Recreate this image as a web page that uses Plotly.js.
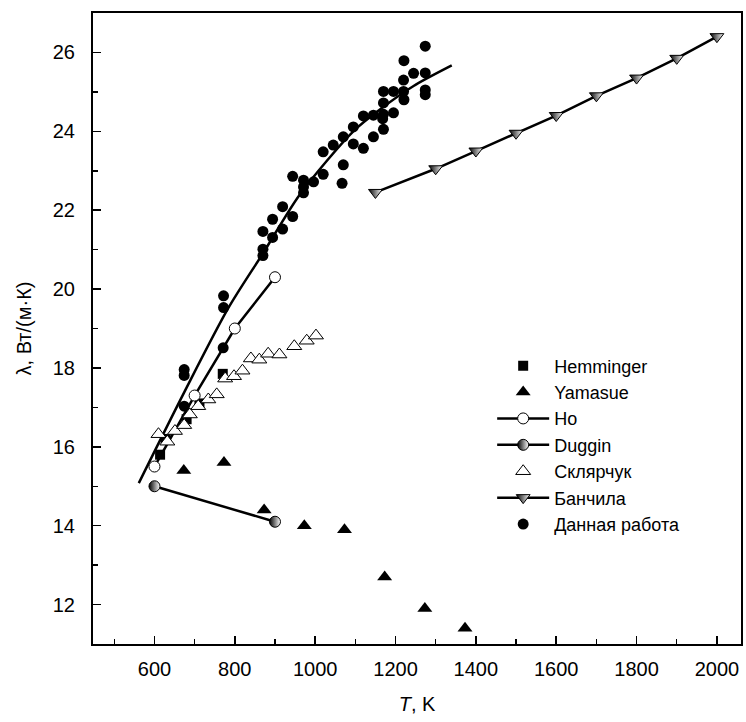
<!DOCTYPE html>
<html>
<head>
<meta charset="utf-8">
<script src="https://cdn.plot.ly/plotly-3.0.1.min.js"></script>
<style>html,body{margin:0;padding:0;background:#fff;}#chart{width:746px;height:722px;}</style>
</head>
<body>
<div id="chart"></div>
<script>
// Hemminger (filled squares)
const hemT = [614, 628, 680, 712, 770];
const hemL = [15.8, 16.2, 16.7, 17.1, 17.85];
// Yamasue (filled triangles)
const yamT = [673, 773, 873, 973, 1073, 1173, 1273, 1373];
const yamL = [15.4, 15.6, 14.4, 14.0, 13.9, 12.7, 11.9, 11.4];
// Ho (open circles with line)
const hoT = [600, 700, 800, 900];
const hoL = [15.5, 17.3, 19.0, 20.3];
// Duggin (half-filled circles with line)
const dugT = [600, 900];
const dugL = [15.0, 14.1];
// Склярчук (open triangles)
const sklT = [610, 632, 651, 674, 688, 709, 734, 755, 776, 798, 819, 840, 861, 883, 911, 948, 979, 1002];
const sklL = [16.32, 16.13, 16.40, 16.55, 16.82, 17.03, 17.20, 17.33, 17.73, 17.79, 17.93, 18.24, 18.21, 18.36, 18.34, 18.55, 18.69, 18.82];
// Банчила (half-filled down triangles with line)
const banT = [1150, 1300, 1400, 1500, 1600, 1700, 1800, 1900, 2000];
const banL = [22.45, 23.05, 23.5, 23.95, 24.4, 24.9, 25.35, 25.85, 26.4];
// Данная работа (filled circles)
const curT = [1274, 1221, 1245, 1274, 1220, 1170, 1195, 1220, 1274, 1274, 1170, 1221,
  1120, 1145, 1170, 1195, 1168, 1095, 1170, 1145, 1070, 1095, 1120, 1045, 1020, 1070,
  1067, 1020, 996, 971, 944, 971, 971, 919, 944, 894, 919, 870, 894, 870, 870,
  772, 772, 674, 674, 771, 674];
const curL = [26.16, 25.79, 25.47, 25.48, 25.30, 25.01, 25.01, 25.01, 25.05, 24.93, 24.72, 24.80,
  24.39, 24.41, 24.43, 24.47, 24.32, 24.11, 24.05, 23.86, 23.86, 23.68, 23.57, 23.65, 23.48, 23.15,
  22.68, 22.91, 22.72, 22.76, 22.86, 22.59, 22.44, 22.09, 21.84, 21.77, 21.52, 21.46, 21.31, 21.01, 20.85,
  19.83, 19.53, 17.96, 17.81, 18.51, 17.03];
// fit line through Данная работа
const fitT = [561, 674, 784, 871, 962, 1095, 1170, 1245, 1340];
const fitL = [15.08, 17.38, 19.52, 20.92, 22.4, 24.0, 24.62, 25.15, 25.67];

const xTicks = [600, 800, 1000, 1200, 1400, 1600, 1800, 2000];
const yTicks = [12, 14, 16, 18, 20, 22, 24, 26];

const FONT = 'Liberation Sans, Arial, sans-serif';

const traces = [
  {x: fitT, y: fitL, mode: 'lines', line: {color: '#000', width: 2.5, shape: 'spline', smoothing: 0.8}, showlegend: false, hoverinfo: 'skip'},
  {x: hemT, y: hemL, name: 'Hemminger', mode: 'markers',
   marker: {symbol: 'square', size: 10, color: '#000'}},
  {x: yamT, y: yamL, name: 'Yamasue', mode: 'markers',
   marker: {symbol: 'triangle-up', size: 13, color: '#000'}},
  {x: hoT, y: hoL, name: 'Ho', mode: 'lines+markers',
   line: {color: '#000', width: 2.5},
   marker: {symbol: 'circle', size: 11, color: '#fff', line: {color: '#000', width: 1}}},
  {x: dugT, y: dugL, name: 'Duggin', mode: 'lines+markers',
   line: {color: '#000', width: 2.5},
   marker: {symbol: 'circle', size: 11, color: '#000', gradient: {type: 'horizontal', color: '#fff'}, line: {color: '#000', width: 1}}},
  {x: sklT, y: sklL, name: 'Склярчук', mode: 'markers',
   marker: {symbol: 'triangle-up', size: 13, color: '#fff', line: {color: '#000', width: 1}}},
  {x: banT, y: banL, name: 'Банчила', mode: 'lines+markers',
   line: {color: '#000', width: 2.5},
   marker: {symbol: 'triangle-down', size: 12, color: '#000', gradient: {type: 'horizontal', color: '#fff'}, line: {color: '#000', width: 1}}},
  {x: curT, y: curL, name: 'Данная работа', mode: 'markers',
   marker: {symbol: 'circle', size: 11, color: '#000'}}
];

const layout = {
  width: 746, height: 722,
  margin: {l: 93, r: 5, t: 13, b: 78},
  paper_bgcolor: '#fff', plot_bgcolor: '#fff',
  font: {family: FONT, size: 20, color: '#000'},
  showlegend: true,
  legend: {x: 0.616, xanchor: 'left', y: 0.47, yanchor: 'top', bgcolor: 'rgba(0,0,0,0)',
    font: {family: FONT, size: 18, color: '#000'}, itemwidth: 52, tracegroupgap: 0},
  xaxis: {
    range: [447, 2060], tickvals: xTicks, ticktext: xTicks.map(String),
    ticks: 'inside', ticklen: 8, tickwidth: 1.5, tickcolor: '#000',
    minor: {dtick: 100, ticks: 'inside', ticklen: 5, tickwidth: 1.5, tickcolor: '#000', tick0: 500},
    showline: true, linecolor: '#000', linewidth: 2, mirror: true,
    showgrid: false, zeroline: false, ticklabelstandoff: 6,
    tickfont: {family: FONT, size: 20, color: '#000'},
    title: {text: '<i>T</i>, K', font: {family: FONT, size: 20, color: '#000'}, standoff: 18}
  },
  yaxis: {
    range: [11, 27], tickvals: yTicks, ticktext: yTicks.map(String),
    ticks: 'inside', ticklen: 8, tickwidth: 1.5, tickcolor: '#000',
    minor: {dtick: 1, tick0: 11, ticks: 'inside', ticklen: 5, tickwidth: 1.5, tickcolor: '#000'},
    showline: true, linecolor: '#000', linewidth: 2, mirror: true,
    showgrid: false, zeroline: false, ticklabelstandoff: 12,
    tickfont: {family: FONT, size: 20, color: '#000'},
    title: {text: 'λ, Вт/(м·К)', font: {family: FONT, size: 20, color: '#000'}, standoff: 16}
  }
};

Plotly.newPlot('chart', traces, layout, {displayModeBar: false, staticPlot: true});
</script>
</body>
</html>
